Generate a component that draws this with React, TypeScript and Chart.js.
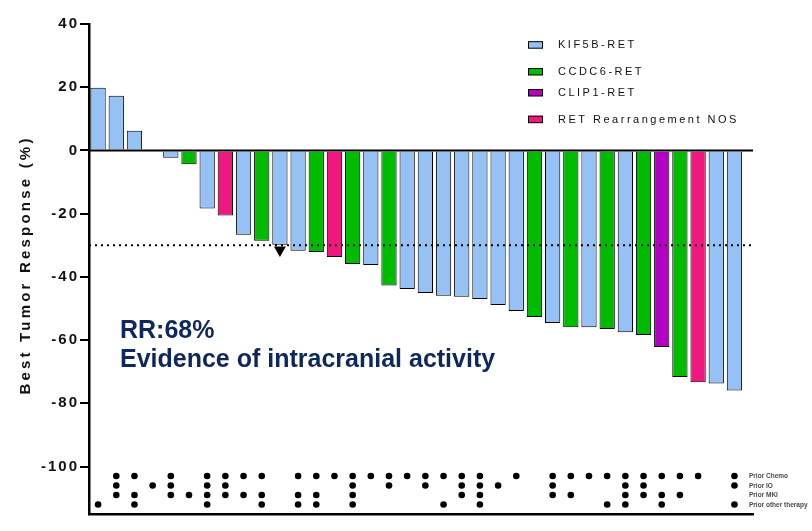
import React, { useEffect, useRef } from "react";
import { Chart, registerables } from "chart.js";

Chart.register(...registerables);

// ---------------- data ----------------
const responses: number[] = [
  19.8, 17.3, 6.2, 0, -2.3, -4.4, -18.4, -20.6, -26.7, -28.6, -29.8, -31.7,
  -32.1, -33.7, -35.9, -36.2, -42.7, -43.8, -45.1, -46.0, -46.3, -47.0, -48.9,
  -50.8, -52.7, -54.6, -55.9, -55.9, -56.5, -57.5, -58.4, -62.2, -71.7, -73.3,
  -73.7, -75.9,
];

// K = KIF5B-RET, C = CCDC6-RET, P = CLIP1-RET, N = RET Rearrangement NOS
const fusionTypes: string[] = [
  "K", "K", "K", "K", "K", "C", "K", "N", "K", "C", "K", "K",
  "C", "N", "C", "K", "C", "K", "K", "K", "K", "K", "K", "K",
  "C", "K", "C", "K", "C", "K", "C", "P", "C", "N", "K", "K",
];

const fusionKeys = ["K", "C", "P", "N"];
const fusionNames: Record<string, string> = {
  K: "KIF5B-RET",
  C: "CCDC6-RET",
  P: "CLIP1-RET",
  N: "RET Rearrangement NOS",
};
const fusionColors: Record<string, string> = {
  K: "#96C1F5",
  C: "#00BB00",
  P: "#B400C2",
  N: "#F0187E",
};

// prior therapy matrix: rows = Chemo, IO, MKI, Other
const priorTherapyLabels = ["Prior Chemo", "Prior IO", "Prior MKI", "Prior other therapy"];
const priorTherapyLevels = [-103, -106, -109, -112];
const priorTherapy: string[] = [
  "0001", "1110", "1011", "0100", "1110", "0010", "1111", "1110", "1010", "1011",
  "0000", "1011", "1011", "1000", "1111", "1000", "1100", "1000", "1100", "1001",
  "1110", "1111", "0100", "1000", "0000", "1110", "1010", "1000", "1001", "1111",
  "1110", "1011", "1010", "1000", "0000",
];
const legendColumn = 35;
const legendMarkers = "1101";

const yTickValues = [40, 20, 0, -20, -40, -60, -80, -100];
const yMin = -115;
const yMax = 40;
const xMin = -0.5;
const xMax = 36.02;

const responseThreshold = -30;
const markedPatient = 10;
const markedLevel = -31.5;

const annotationLines = ["RR:68%", "Evidence of intracranial activity"];
const yTitle = "Best Tumor Response (%)";

const FONT = '"Liberation Sans", Arial, Helvetica, sans-serif';

// -------------- derived datasets --------------
const barPoints = responses.map((v, i) => ({ x: i, y: v }));
const barColors = fusionTypes.map((t) => fusionColors[t]);

const dotPoints: { x: number; y: number }[] = [];
priorTherapy.forEach((bits, i) => {
  bits.split("").forEach((b, r) => {
    if (b === "1") dotPoints.push({ x: i, y: priorTherapyLevels[r] });
  });
});
const legendDotPoints: { x: number; y: number }[] = [];
legendMarkers.split("").forEach((b, r) => {
  if (b === "1") legendDotPoints.push({ x: legendColumn, y: priorTherapyLevels[r] });
});

const overlayPlugin = {
  id: "overlay",
  beforeDraw(chart: any) {
    (chart.ctx as any).letterSpacing = "2px";
  },
  afterDraw(chart: any) {
    const ctx = chart.ctx as CanvasRenderingContext2D & { letterSpacing?: string };
    const yScale = chart.scales.y;
    ctx.save();

    // Top legend
    const legendY = [44.7, 71.5, 92.5, 119.2];
    ctx.letterSpacing = "2.5px";
    ctx.font = `11px ${FONT}`;
    ctx.textBaseline = "middle";
    ctx.textAlign = "left";
    fusionKeys.forEach((k, i) => {
      const y = legendY[i];
      ctx.fillStyle = fusionColors[k];
      ctx.fillRect(528, y - 3.5, 15, 7);
      ctx.strokeStyle = "#000";
      ctx.lineWidth = 1;
      ctx.strokeRect(528.5, y - 3, 14, 6.5);
      ctx.fillStyle = "#111";
      ctx.fillText(fusionNames[k], 558, y + 0.5);
    });

    // Prior therapy labels
    ctx.letterSpacing = "0px";
    ctx.font = `bold 6.5px ${FONT}`;
    ctx.fillStyle = "#4a4a4a";
    priorTherapyLabels.forEach((lab, r) => {
      ctx.fillText(lab, 749, yScale.getPixelForValue(priorTherapyLevels[r]) + 0.5);
    });

    // Annotation text
    ctx.letterSpacing = "0px";
    ctx.font = `bold 25px ${FONT}`;
    ctx.fillStyle = "#0E275C";
    ctx.textBaseline = "alphabetic";
    ctx.fillText(annotationLines[0], 120, 338);
    ctx.fillText(annotationLines[1], 120, 367);

    // Y title
    ctx.translate(26, 265);
    ctx.rotate(-Math.PI / 2);
    ctx.letterSpacing = "3.2px";
    ctx.font = `bold 15px ${FONT}`;
    ctx.fillStyle = "#111";
    ctx.textAlign = "center";
    ctx.textBaseline = "middle";
    ctx.fillText(yTitle, 0, 0);

    ctx.restore();
    ctx.letterSpacing = "0px";
  },
};

export default function App() {
  const canvasRef = useRef<HTMLCanvasElement | null>(null);

  useEffect(() => {
    if (!canvasRef.current) return;
    const chart = new Chart(canvasRef.current, {
      type: "bar",
      data: {
        datasets: [
          {
            type: "line",
            label: "zero",
            data: [
              { x: xMin, y: 0 },
              { x: xMax, y: 0 },
            ],
            borderColor: "#000",
            borderWidth: 2,
            pointRadius: 0,
          } as any,
          {
            type: "line",
            label: "threshold",
            data: [
              { x: xMin, y: responseThreshold },
              { x: xMax, y: responseThreshold },
            ],
            borderColor: "#000",
            borderWidth: 2,
            borderDash: [2, 4],
            pointRadius: 0,
          } as any,
          {
            type: "scatter",
            label: "marker",
            data: [{ x: markedPatient, y: markedLevel }],
            pointStyle: "triangle",
            rotation: 180,
            pointRadius: 6.9,
            backgroundColor: "#000",
            borderColor: "#000",
            borderWidth: 0,
          } as any,
          {
            type: "scatter",
            label: "prior therapy",
            data: dotPoints,
            pointRadius: 3.3,
            backgroundColor: "#000",
            borderWidth: 0,
          } as any,
          {
            type: "scatter",
            label: "prior therapy legend",
            data: legendDotPoints,
            pointRadius: 3.3,
            backgroundColor: "#000",
            borderWidth: 0,
          } as any,
          {
            type: "bar",
            label: "Best response",
            data: barPoints,
            backgroundColor: barColors,
            borderColor: "#000",
            borderWidth: 1,
            barPercentage: 0.84,
            categoryPercentage: 1,
          } as any,
        ],
      },
      options: {
        responsive: false,
        animation: false,
        devicePixelRatio: 1,
        layout: { padding: { top: 24, right: 59, bottom: 17, left: 0 } },
        plugins: {
          legend: { display: false },
          tooltip: { enabled: false },
          title: { display: false },
        },
        scales: {
          x: {
            type: "linear",
            position: "bottom",
            offset: false,
            min: xMin,
            max: xMax,
            ticks: { display: false },
            grid: { display: false, drawTicks: false, offset: false },
            border: { display: true, color: "#000", width: 2.5 },
            afterFit: (s: any) => {
              s.height = 0;
            },
          },
          y: {
            type: "linear",
            min: yMin,
            max: yMax,
            afterBuildTicks: (s: any) => {
              s.ticks = yTickValues.map((v) => ({ value: v }));
            },
            afterFit: (s: any) => {
              s.width = 89;
            },
            ticks: {
              color: "#111",
              padding: 1,
              font: { family: FONT, size: 15, weight: "bold" },
              callback: (v: any) => String(v),
            },
            grid: {
              display: true,
              drawOnChartArea: false,
              drawTicks: true,
              tickLength: 9,
              color: "#000",
              lineWidth: 2,
            },
            border: { display: true, color: "#000", width: 2.5 },
          },
        },
      } as any,
      plugins: [overlayPlugin],
    });
    return () => chart.destroy();
  }, []);

  return (
    <div style={{ position: "fixed", left: 0, top: 0, width: 812, height: 531, background: "#fff" }}>
      <canvas ref={canvasRef} width={812} height={531} style={{ width: 812, height: 531 }} />
    </div>
  );
}
